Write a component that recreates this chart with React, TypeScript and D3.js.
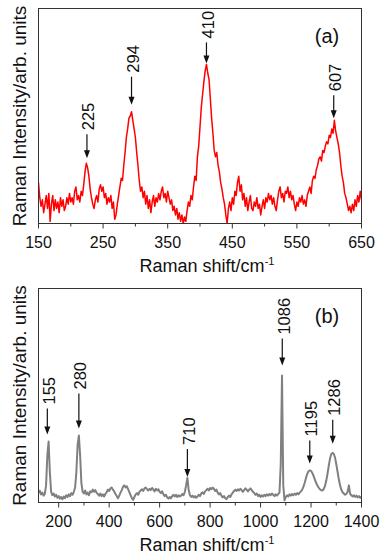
import React from "react";
import * as d3 from "d3";

// ---------- DATA ----------
// Panel (a): Raman spectrum, 150–650 cm-1, sampled every 2 cm-1
const aStart = 150;
const aStep = 2;
const aIntensity = [
  19, 12, 8, 11, 5, 9, 13, 7, 14, 1, 9, 13, 6, 11, 7, 10, 5, 12, 8, 11, 6, 8, 12, 9, 14,
  10, 12, 9, 15, 17, 11, 13, 10, 15, 13, 18, 24, 28, 26, 22, 16, 12, 9, 7, 11, 13, 10, 16, 18, 15,
  17, 12, 14, 9, 12, 10, 13, 7, 10, 2, 4, 9, 13, 17, 21, 20, 27, 33, 40, 44, 49, 50, 52, 48, 44,
  40, 33, 27, 20, 15, 17, 12, 15, 9, 13, 7, 11, 5, 10, 13, 8, 12, 10, 14, 11, 15, 17, 12, 14, 10,
  15, 12, 9, 11, 6, 8, 4, 7, 2, 5, 1, 4, 0, 3, 1, 6, 10, 8, 13, 11, 17, 22, 20, 31, 36,
  45, 54, 60, 66, 71, 74, 70, 67, 58, 49, 42, 34, 31, 33, 27, 24, 19, 16, 12, 9, 4, 0, 7, 10, 6,
  12, 9, 15, 13, 19, 22, 15, 18, 11, 14, 8, 12, 6, 10, 13, 7, 6, 10, 8, 12, 7, 9, 4, 8, 11,
  7, 12, 10, 14, 11, 13, 9, 12, 8, 6, 11, 15, 17, 12, 14, 10, 15, 14, 17, 12, 15, 11, 13, 9, 6,
  10, 8, 12, 10, 13, 9, 11, 8, 13, 15, 17, 14, 20, 22, 21, 25, 27, 30, 31, 29, 34, 33, 36, 38, 37,
  41, 40, 44, 42, 48, 43, 40, 37, 33, 27, 22, 19, 14, 12, 9, 6, 8, 5, 9, 6, 11, 8, 13, 10, 15,
  11,
];
const aPeaks = [225, 294, 410, 607];
const aTicksMajor = [150, 250, 350, 450, 550, 650];
const aTicksMinor = [200, 300, 400, 500, 600];

// Panel (b): Raman spectrum, 120–1400 cm-1, sampled every 5 cm-1
const bStart = 120;
const bStep = 5;
const bIntensity = [
  4.5, 5.5, 3.8, 4.6, 3.2, 4.0, 8, 22, 28.5, 14, 5, 3.5, 4.2, 2.8, 3.6, 2.2, 3.0, 1.8, 2.6, 1.5,
  2.8, 2.0, 3.4, 2.6, 3.8, 3.0, 4.4, 3.6, 5.0, 7, 14, 27, 31.3, 22, 9, 5.0, 4.2, 5.6, 3.8, 4.6,
  3.4, 5.2, 4.8, 6.0, 5.0, 5.8, 4.6, 4.0, 3.2, 4.2, 3.0, 3.8, 2.8, 4.0, 4.8, 6.0, 5.4, 6.6, 7.0, 6.0,
  5.2, 4.0, 3.0, 2.0, 3.2, 4.6, 5.8, 7.4, 8.0, 7.0, 7.6, 6.2, 4.8, 3.4, 2.0, 1.2, 2.6, 3.8, 4.4, 3.6,
  5.0, 5.6, 6.2, 5.4, 6.6, 7.0, 6.2, 5.6, 6.4, 5.8, 6.8, 6.0, 5.2, 6.4, 5.6, 6.2, 5.0, 4.4, 5.2, 3.8,
  3.0, 3.6, 2.4, 1.8, 2.6, 2.0, 3.0, 3.6, 2.8, 3.6, 2.6, 3.4, 2.8, 3.2, 4.0, 3.4, 5.0, 8.0, 11.5, 6.0,
  3.4, 2.6, 3.2, 2.4, 3.0, 2.2, 2.8, 3.6, 3.0, 4.2, 4.8, 4.0, 5.2, 5.8, 6.4, 5.6, 6.8, 6.2, 7.0, 6.4,
  5.4, 6.0, 4.6, 3.8, 4.4, 3.2, 2.4, 3.0, 2.0, 1.6, 2.6, 3.2, 2.6, 3.8, 4.6, 5.4, 6.0, 5.4, 6.2, 5.6,
  6.4, 5.8, 5.0, 5.8, 6.6, 6.0, 5.2, 6.0, 6.6, 5.8, 5.0, 4.4, 3.6, 4.2, 3.0, 3.6, 2.6, 3.4, 2.8, 3.6,
  3.0, 3.8, 3.2, 4.0, 3.4, 4.2, 3.6, 3.0, 3.8, 3.2, 4.0, 4.6, 18, 59.3, 8, 1.0, 2.6, 3.4, 2.8, 3.8,
  3.2, 4.0, 3.4, 4.2, 3.6, 4.4, 3.8, 4.6, 5.2, 6.0, 7.4, 9.2, 11.4, 13.4, 14.6, 15.0, 14.8, 13.8, 12.4, 10.8,
  9.2, 8.0, 7.0, 6.2, 5.8, 5.6, 6.2, 7.6, 10.0, 13.2, 17.0, 20.4, 22.6, 23.2, 22.8, 21.0, 18.0, 14.4, 11.0, 8.0,
  6.0, 4.8, 4.2, 3.6, 4.0, 5.0, 8.0, 4.0, 3.4, 2.8, 3.4, 2.6, 3.2, 2.4, 3.0, 2.2, 2.8,
];
const bPeaks = [155, 280, 710, 1086, 1195, 1286];
const bTicksMajor = [200, 400, 600, 800, 1000, 1200, 1400];
const bTicksMinor = [300, 500, 700, 900, 1100, 1300];

// ---------- STYLE ----------
const W = 380;
const H = 559;
const FONT = "'Liberation Sans', Arial, Helvetica, sans-serif";
const LEFT = 38.5;
const RIGHT = 361.5;
const aTop = 8.5, aBottom = 223.5;
const bTop = 288.5, bBottom = 502.5;
const aGaps = [5, 7, 1, 2];
const aLens = [24, 28, 21, 23];
const bGaps = [7, 7, 1, 10, 7, 9];
const bLens = [26, 35, 28, 27, 23, 24];

type PanelProps = {
  start: number;
  step: number;
  values: number[];
  domain: [number, number];
  top: number;
  bottom: number;
  color: string;
  width: number;
  peaks: number[];
  gaps: number[];
  lens: number[];
  major: number[];
  minor: number[];
  tag: string;
  id: string;
};

function Panel(p: PanelProps) {
  const x = d3.scaleLinear().domain(p.domain).range([LEFT, RIGHT]);
  const y = d3.scaleLinear().domain([0, 100]).range([p.bottom, p.top]);
  const pts: [number, number][] = p.values.map((v, i) => [p.start + i * p.step, v]);
  const line = d3
    .line<[number, number]>()
    .x((d) => x(d[0]))
    .y((d) => y(d[1]));
  const peakMax = (c: number) =>
    d3.max(pts.filter((d) => Math.abs(d[0] - c) <= 7), (d) => d[1]) ?? 0;
  const midY = (p.top + p.bottom) / 2;

  return (
    <g>
      <defs>
        <clipPath id={p.id}>
          <rect x={LEFT} y={p.top} width={RIGHT - LEFT} height={p.bottom - p.top} />
        </clipPath>
      </defs>
      <path
        d={line(pts) ?? ""}
        fill="none"
        stroke={p.color}
        strokeWidth={p.width}
        strokeLinejoin="round"
        clipPath={`url(#${p.id})`}
      />
      <rect
        x={LEFT}
        y={p.top}
        width={RIGHT - LEFT}
        height={p.bottom - p.top}
        fill="none"
        stroke="#333"
        strokeWidth={1}
      />
      {p.major.map((t) => (
        <g key={"M" + t}>
          <line x1={x(t)} x2={x(t)} y1={p.bottom} y2={p.bottom + 5} stroke="#333" />
          <text
            x={x(t)}
            y={p.bottom + 24}
            textAnchor="middle"
            fontSize={16}
            fontFamily={FONT}
            fill="#111"
          >
            {t}
          </text>
        </g>
      ))}
      {p.minor.map((t) => (
        <line key={"m" + t} x1={x(t)} x2={x(t)} y1={p.bottom} y2={p.bottom + 3} stroke="#333" />
      ))}
      {p.peaks.map((c, i) => {
        const px = x(c);
        const tip = y(peakMax(c)) - p.gaps[i];
        const topY = tip - p.lens[i];
        return (
          <g key={"p" + c}>
            <line x1={px} x2={px} y1={topY} y2={tip - 6} stroke="#111" strokeWidth={1.2} />
            <path
              d={`M${px},${tip} L${px - 3},${tip - 8} L${px + 3},${tip - 8} Z`}
              fill="#111"
            />
            <text
              transform={`translate(${px + 7.5},${topY - 4}) rotate(-90)`}
              fontSize={16.5}
              fontFamily={FONT}
              fill="#111"
            >
              {c}
            </text>
          </g>
        );
      })}
      <text
        x={327}
        y={p.top + 34}
        textAnchor="middle"
        fontSize={20}
        fontFamily={FONT}
        fill="#111"
      >
        {p.tag}
      </text>
      <text
        transform={`translate(26,${midY}) rotate(-90)`}
        textAnchor="middle"
        fontSize={19}
        fontFamily={FONT}
        fill="#111"
      >
        Raman Intensity/arb. units
      </text>
      <text
        x={207}
        y={p.bottom + 48}
        textAnchor="middle"
        fontSize={18}
        fontFamily={FONT}
        fill="#111"
      >
        Raman shift/cm
        <tspan fontSize={11} dy={-7}>
          -1
        </tspan>
      </text>
    </g>
  );
}

export default function App() {
  return (
    <svg
      width={W}
      height={H}
      viewBox={`0 0 ${W} ${H}`}
      style={{ position: "absolute", left: 0, top: 0, background: "#fff" }}
    >
      <rect width={W} height={H} fill="#fff" />
      <Panel
        start={aStart}
        step={aStep}
        values={aIntensity}
        domain={[150, 650]}
        top={aTop}
        bottom={aBottom}
        color="#ff0000"
        width={1.5}
        peaks={aPeaks}
        gaps={aGaps}
        lens={aLens}
        major={aTicksMajor}
        minor={aTicksMinor}
        tag="(a)"
        id="clipA"
      />
      <Panel
        start={bStart}
        step={bStep}
        values={bIntensity}
        domain={[120, 1400]}
        top={bTop}
        bottom={bBottom}
        color="#808080"
        width={2}
        peaks={bPeaks}
        gaps={bGaps}
        lens={bLens}
        major={bTicksMajor}
        minor={bTicksMinor}
        tag="(b)"
        id="clipB"
      />
    </svg>
  );
}
